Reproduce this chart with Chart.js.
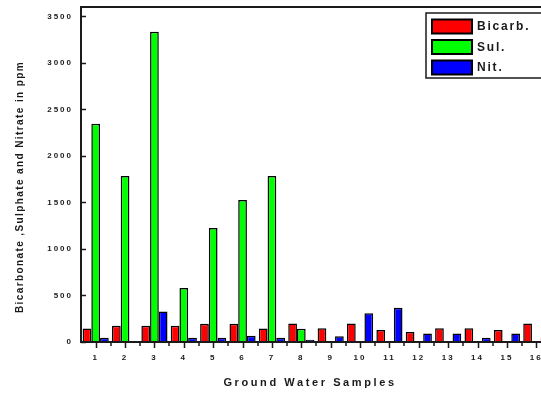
<!DOCTYPE html>
<html>
<head>
<meta charset="utf-8">
<script src="https://cdn.jsdelivr.net/npm/chart.js@4.4.0/dist/chart.umd.min.js"></script>
<style>
  html, body { margin: 0; padding: 0; background: #fff; overflow: hidden; }
  #wrap { width: 541px; height: 394px; overflow: hidden; }
  canvas { display: block; }
</style>
</head>
<body>
<div id="wrap"><canvas id="chart" width="552" height="394"></canvas></div>
<script>
// data
const samples = ['1', '2', '3', '4', '5', '6', '7', '8', '9', '10', '11', '12', '13', '14', '15', '16'];
const bicarb = [145, 175, 175, 175, 195, 195, 145, 198, 148, 198, 130, 108, 148, 148, 130, 198];
const sul = [2345, 1785, 3335, 580, 1225, 1525, 1785, 142, null, null, null, null, null, null, null, null];
const nit = [45, null, 327, 45, 45, 66, 45, 25, 62, 309, 367, 91, 91, 45, 91, 48];
const seriesNames = ['Bicarb.', 'Sul.', 'Nit.'];
const seriesColors = ['#ff0000', '#00ff00', '#0000ff'];
const yTicks = [0, 500, 1000, 1500, 2000, 2500, 3000, 3500];
const xTitle = 'Ground Water Samples';
const yTitle = 'Bicarbonate ,Sulphate and Nitrate in ppm';

const ink = '#1a1a1a';

// axes frame, inward y ticks, downward x ticks, titles and legend
const decor = {
  id: 'decor',
  beforeDraw(chart) {
    chart.ctx.letterSpacing = '2px';
  },
  afterDraw(chart) {
    const ctx = chart.ctx;
    const a = chart.chartArea;
    const xs = chart.scales.x;
    const ys = chart.scales.y;
    ctx.save();
    ctx.strokeStyle = ink;
    ctx.lineWidth = 2;
    ctx.strokeRect(a.left, a.top, a.right - a.left, a.bottom - a.top);

    ctx.lineWidth = 1.5;
    ctx.beginPath();
    yTicks.forEach(v => {
      const y = Math.round(ys.getPixelForValue(v)) + 0.5;
      ctx.moveTo(a.left, y);
      ctx.lineTo(a.left + 5, y);
    });
    samples.forEach((s, i) => {
      const x = Math.round(xs.getPixelForValue(i)) + 0.5;
      ctx.moveTo(x, a.bottom);
      ctx.lineTo(x, a.bottom + 6);
      const xm = Math.round(x + (xs.getPixelForValue(1) - xs.getPixelForValue(0)) / 2);
      ctx.moveTo(xm, a.bottom);
      ctx.lineTo(xm, a.bottom + 4);
    });
    ctx.stroke();

    // axis titles
    ctx.fillStyle = ink;
    ctx.font = 'bold 11px "Liberation Sans", Arial, sans-serif';
    ctx.letterSpacing = '2.6px';
    ctx.textAlign = 'center';
    ctx.textBaseline = 'middle';
    ctx.fillText(xTitle, 310, 383);

    ctx.save();
    ctx.translate(20, 187);
    ctx.rotate(-Math.PI / 2);
    ctx.font = 'bold 10px "Liberation Sans", Arial, sans-serif';
    ctx.letterSpacing = '1.4px';
    ctx.fillText(yTitle, 0, 0);
    ctx.restore();

    // legend box
    const lx = 426, ly = 13, lw = 126, lh = 65;
    ctx.fillStyle = '#fff';
    ctx.fillRect(lx, ly, lw, lh);
    ctx.lineWidth = 1.5;
    ctx.strokeStyle = ink;
    ctx.strokeRect(lx, ly, lw, lh);
    ctx.font = 'bold 12px "Liberation Sans", Arial, sans-serif';
    ctx.letterSpacing = '1.8px';
    ctx.textAlign = 'left';
    chart.data.datasets.forEach((ds, i) => {
      const ry = 19.5 + i * 20.5;
      ctx.fillStyle = ds.backgroundColor;
      ctx.fillRect(432, ry, 40, 14);
      ctx.lineWidth = 2;
      ctx.strokeStyle = '#000';
      ctx.strokeRect(432, ry, 40, 14);
      ctx.fillStyle = ink;
      ctx.fillText(ds.label, 477, ry + 7.5);
    });
    ctx.restore();
    ctx.letterSpacing = '0px';
  }
};

new Chart(document.getElementById('chart'), {
  type: 'bar',
  data: {
    labels: samples,
    datasets: [bicarb, sul, nit].map((d, i) => ({
      label: seriesNames[i],
      data: d,
      backgroundColor: seriesColors[i],
      borderColor: '#000',
      borderWidth: 1.5,
      borderSkipped: 'bottom',
      categoryPercentage: 0.89,
      barPercentage: 1.0
    }))
  },
  options: {
    responsive: false,
    animation: false,
    layout: { padding: { left: 0, right: 1, top: 7, bottom: 0 } },
    plugins: { legend: { display: false }, tooltip: { enabled: false } },
    scales: {
      x: {
        offset: true,
        grid: { display: false, drawTicks: false },
        border: { display: false },
        ticks: {
          color: ink,
          padding: 11,
          maxRotation: 0,
          autoSkip: false,
          font: { family: '"Liberation Sans", Arial, sans-serif', size: 8, weight: 'bold' }
        },
        afterFit(s) { s.height = 52; s.paddingLeft = 0; s.paddingRight = 0; }
      },
      y: {
        min: 0,
        max: 3600,
        grid: { display: false, drawTicks: false },
        border: { display: false },
        afterBuildTicks(s) { s.ticks = yTicks.map(v => ({ value: v })); },
        ticks: {
          color: ink,
          padding: 8,
          callback: v => String(v),
          font: { family: '"Liberation Sans", Arial, sans-serif', size: 8, weight: 'bold' }
        },
        afterFit(s) { s.width = 81; s.paddingTop = 0; s.paddingBottom = 0; }
      }
    }
  },
  plugins: [decor]
});
</script>
</body>
</html>
